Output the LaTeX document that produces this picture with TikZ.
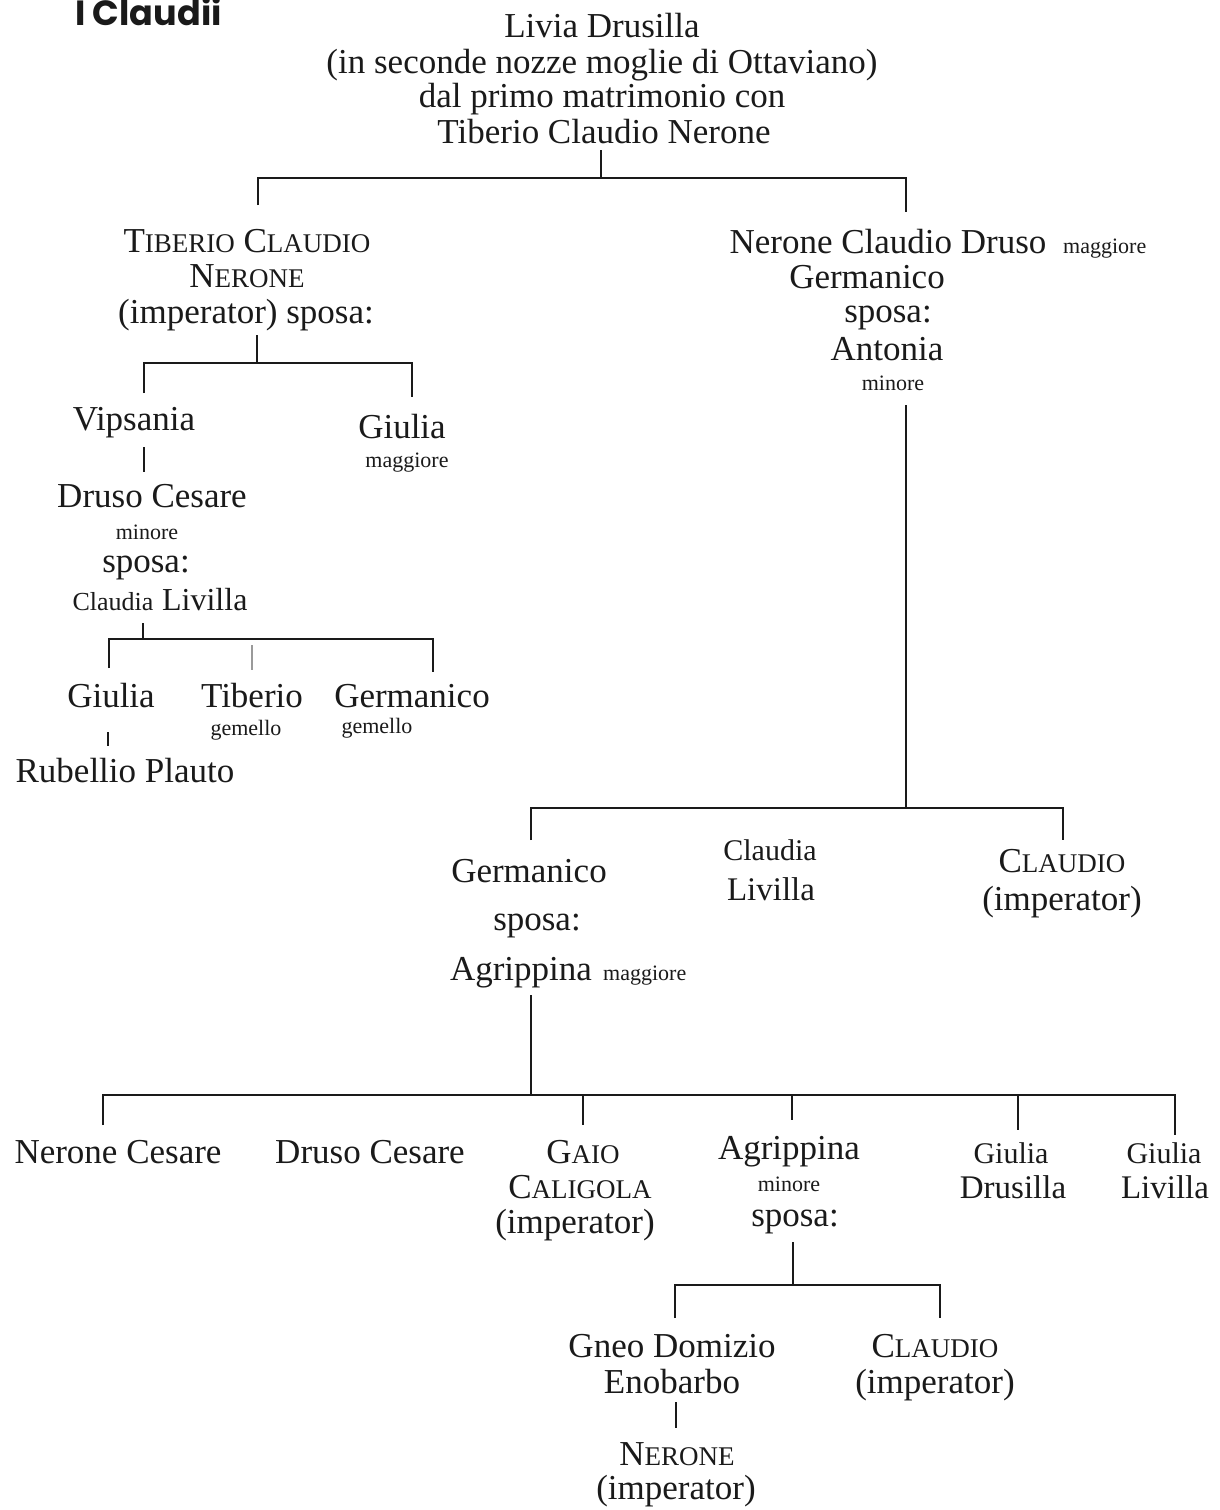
\documentclass[tikz,border=0pt]{standalone}
\usepackage{fontspec}
\setmainfont{Liberation Serif}
\newfontfamily\titlefont{Poppins}
\definecolor{ink}{HTML}{1A1A1A}
\definecolor{faint}{HTML}{9A9A9A}
\newcommand{\sck}[2]{#1{\fontsize{27}{30}\selectfont #2}}
\begin{document}
\begin{tikzpicture}[x=1pt,y=-1pt,
  nm/.style={font=\fontsize{35}{40}\selectfont, anchor=base, inner sep=0pt, text=ink},
  sm/.style={font=\fontsize{22}{25}\selectfont, anchor=base, inner sep=0pt, text=ink},
  link/.style={draw=ink, line width=1.7pt},
  faintlink/.style={draw=faint, line width=1.4pt},
]
\useasboundingbox[fill=white] (0,0) rectangle (1219,1510);

% title
\node[anchor=base west, inner sep=0pt, text=ink, font=\titlefont\bfseries\fontsize{35}{40}\selectfont] (title) at (75,25) {I Claudii};

% top
\node[nm] (t1) at (602,37) {Livia Drusilla};
\node[nm] (t2) at (602,73) {(in seconde nozze moglie di Ottaviano)};
\node[nm] (t3) at (602,107) {dal primo matrimonio con};
\node[nm] (t4) at (604,143) {Tiberio Claudio Nerone};

% left branch
\node[nm] (tib1) at (247,252) {\sck{T}{IBERIO} \sck{C}{LAUDIO}};
\node[nm] (tib2) at (247,287) {\sck{N}{ERONE}};
\node[nm] (tib3) at (246,323) {(imperator) sposa:};
\node[nm] (vips) at (134,430) {Vipsania};
\node[nm] (giu1) at (402,438) {Giulia};
\node[sm] (giu2) at (407,467) {maggiore};
\node[nm] (dru1) at (152,507) {Druso Cesare};
\node[sm] (dru2) at (147,539) {minore};
\node[nm] (dru3) at (146,572) {sposa:};
\node[nm] (dru4) at (160,610) {{\fontsize{26}{30}\selectfont Claudia} {\fontsize{32}{36}\selectfont Livilla}};
\node[nm] (gi) at (111,707) {Giulia};
\node[nm] (ti) at (252,707) {Tiberio};
\node[nm] (ge) at (412,707) {Germanico};
\node[sm] (gem1) at (246,735) {gemello};
\node[sm] (gem2) at (377,733) {gemello};
\node[nm] (rub) at (125,782) {Rubellio Plauto};

% right branch
\node[nm] (ncd1) at (888,253) {Nerone Claudio Druso};
\node[sm, anchor=base west] (ncd1m) at (1063,253) {maggiore};
\node[nm] (ncd2) at (867,288) {Germanico};
\node[nm] (ncd3) at (888,322) {sposa:};
\node[nm] (ncd4) at (887,360) {Antonia};
\node[sm] (ncd5) at (893,390) {minore};

% middle generation
\node[nm] (ger1) at (529,882) {Germanico};
\node[nm] (ger2) at (537,930) {sposa:};
\node[nm] (ger3) at (521,980) {Agrippina};
\node[sm, anchor=base west] (ger3m) at (603,980) {maggiore};
\node[nm, font=\fontsize{30}{34}\selectfont] (cl1) at (770,860) {Claudia};
\node[nm, font=\fontsize{33}{36}\selectfont] (cl2) at (771,900) {Livilla};
\node[nm] (cla1) at (1062,872) {\sck{C}{LAUDIO}};
\node[nm] (cla2) at (1062,910) {(imperator)};

% bottom generation
\node[nm] (nc) at (118,1163) {Nerone Cesare};
\node[nm] (dc) at (370,1163) {Druso Cesare};
\node[nm] (gaio1) at (583,1163) {\sck{G}{AIO}};
\node[nm] (gaio2) at (580,1198) {\sck{C}{ALIGOLA}};
\node[nm] (gaio3) at (575,1233) {(imperator)};
\node[nm] (ag1) at (789,1159) {Agrippina};
\node[sm] (ag2) at (789,1191) {minore};
\node[nm] (ag3) at (795,1226) {sposa:};
\node[nm, font=\fontsize{30}{34}\selectfont] (gd1) at (1011,1163) {Giulia};
\node[nm, font=\fontsize{33}{36}\selectfont] (gd2) at (1013,1198) {Drusilla};
\node[nm, font=\fontsize{30}{34}\selectfont] (gl1) at (1164,1163) {Giulia};
\node[nm, font=\fontsize{33}{36}\selectfont] (gl2) at (1165,1198) {Livilla};

% last generation
\node[nm] (gn1) at (672,1357) {Gneo Domizio};
\node[nm] (gn2) at (672,1393) {Enobarbo};
\node[nm] (ne1) at (677,1465) {\sck{N}{ERONE}};
\node[nm] (ne2) at (676,1499) {(imperator)};
\node[nm] (cla3) at (935,1357) {\sck{C}{LAUDIO}};
\node[nm] (cla4) at (935,1393) {(imperator)};

% connector coordinates
\coordinate (s0) at (601,150);  \coordinate (j0) at (601,178);
\coordinate (b0L) at (258,178); \coordinate (b0R) at (906,178);
\coordinate (d0L) at (258,205); \coordinate (d0R) at (906,212);

\coordinate (s1) at (257,335);  \coordinate (j1) at (257,363);
\coordinate (b1L) at (144,363); \coordinate (b1R) at (412,363);
\coordinate (d1L) at (144,393); \coordinate (d1R) at (412,397);

\coordinate (v1) at (144,447);  \coordinate (v2) at (144,472);

\coordinate (s2) at (143,623);  \coordinate (j2) at (143,639);
\coordinate (b2L) at (109,639); \coordinate (b2R) at (433,639);
\coordinate (d2L) at (109,668); \coordinate (d2R) at (433,672);
\coordinate (m2a) at (252,645); \coordinate (m2b) at (252,670);

\coordinate (r1) at (108,732);  \coordinate (r2) at (108,746);

\coordinate (s3) at (906,405);  \coordinate (j3) at (906,808);
\coordinate (b3L) at (531,808); \coordinate (b3R) at (1063,808);
\coordinate (d3L) at (531,840); \coordinate (d3R) at (1063,840);

\coordinate (s4) at (531,995);  \coordinate (j4) at (531,1095);
\coordinate (b4L) at (103,1095); \coordinate (b4R) at (1175,1095);
\coordinate (d4L) at (103,1125); \coordinate (d4R) at (1175,1135);
\coordinate (g4a) at (583,1095); \coordinate (g4b) at (583,1125);
\coordinate (a4a) at (792,1095); \coordinate (a4b) at (792,1120);
\coordinate (u4a) at (1018,1095); \coordinate (u4b) at (1018,1130);

\coordinate (s5) at (793,1242); \coordinate (j5) at (793,1285);
\coordinate (b5L) at (675,1285); \coordinate (b5R) at (940,1285);
\coordinate (d5L) at (675,1318); \coordinate (d5R) at (940,1318);

\coordinate (e1) at (676,1402); \coordinate (e2) at (676,1428);

% connectors
\draw[link] (s0) -- (j0);
\draw[link] (d0L) -- (b0L) -- (b0R) -- (d0R);

\draw[link] (s1) -- (j1);
\draw[link] (d1L) -- (b1L) -- (b1R) -- (d1R);
\draw[link] (v1) -- (v2);

\draw[link] (s2) -- (j2);
\draw[link] (d2L) -- (b2L) -- (b2R) -- (d2R);
\draw[faintlink] (m2a) -- (m2b);
\draw[link] (r1) -- (r2);

\draw[link] (s3) -- (j3);
\draw[link] (d3L) -- (b3L) -- (b3R) -- (d3R);

\draw[link] (s4) -- (j4);
\draw[link] (d4L) -- (b4L) -- (b4R) -- (d4R);
\draw[link] (g4a) -- (g4b);
\draw[link] (a4a) -- (a4b);
\draw[link] (u4a) -- (u4b);

\draw[link] (s5) -- (j5);
\draw[link] (d5L) -- (b5L) -- (b5R) -- (d5R);
\draw[link] (e1) -- (e2);
\end{tikzpicture}
\end{document}
